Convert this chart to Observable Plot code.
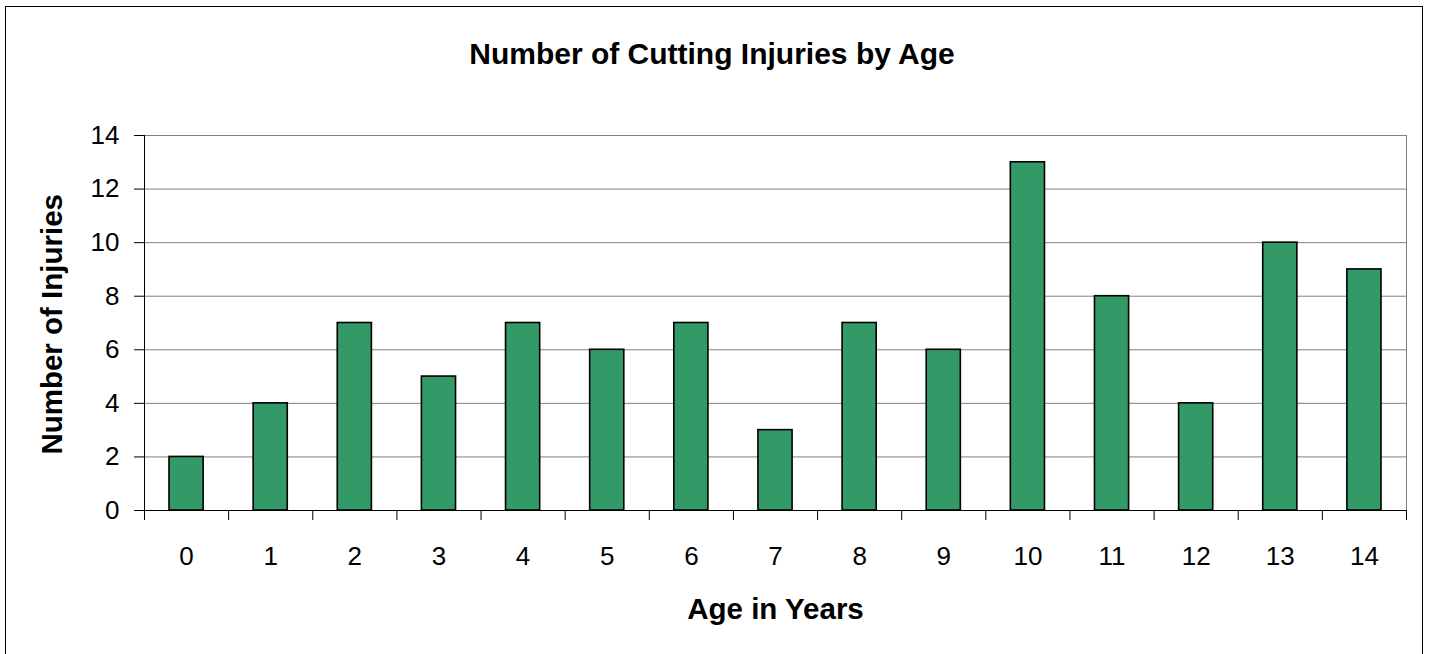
<!DOCTYPE html>
<html>
<head>
<meta charset="utf-8">
<script src="https://cdn.jsdelivr.net/npm/d3@7"></script>
<script src="https://cdn.jsdelivr.net/npm/@observablehq/plot@0.6"></script>
<style>
  html, body { margin: 0; padding: 0; background: #fff; overflow: hidden; }
  #wrap { position: relative; width: 1429px; height: 654px; }
  #border { position: absolute; left: 5px; top: 6px; width: 1418px; height: 700px;
            border: 1px solid #000; border-bottom: none; pointer-events: none; box-sizing: border-box; }
</style>
</head>
<body>
<div id="wrap"><div id="border"></div></div>
<script>
const title = "Number of Cutting Injuries by Age";
const xTitle = "Age in Years";
const yTitle = "Number of Injuries";
const ages = [0, 1, 2, 3, 4, 5, 6, 7, 8, 9, 10, 11, 12, 13, 14];
const injuries = [2, 4, 7, 5, 7, 6, 7, 3, 7, 6, 13, 8, 4, 10, 9];
const yTicks = [0, 2, 4, 6, 8, 10, 12, 14];

const data = ages.map((a, i) => ({age: a, count: injuries[i]}));
const boundaries = [...ages.map(a => a - 0.5), ages[ages.length - 1] + 0.5];
const font = "'Liberation Sans', Arial, sans-serif";

const chart = Plot.plot({
  width: 1429,
  height: 654,
  marginLeft: 144,
  marginRight: 23,
  marginTop: 135,
  marginBottom: 144,
  style: {fontFamily: font, background: "transparent", color: "#000", overflow: "visible"},
  x: {type: "linear", domain: [boundaries[0], boundaries[boundaries.length - 1]], label: null},
  y: {domain: [0, 14], label: null},
  marks: [
    Plot.gridY(yTicks, {stroke: "#808080", strokeOpacity: 1, strokeWidth: 1}),
    Plot.ruleX([boundaries[boundaries.length - 1]], {stroke: "#808080", strokeWidth: 1}),
    Plot.rectY(data, {
      x1: d => d.age - 0.5, x2: d => d.age + 0.5, y1: 0, y2: "count",
      insetLeft: 25, insetRight: 25,
      fill: "#339966", stroke: "#000", strokeWidth: 1.6
    }),
    Plot.ruleY([0], {stroke: "#000", strokeWidth: 1}),
    Plot.ruleX([boundaries[0]], {stroke: "#000", strokeWidth: 1, insetBottom: -10}),
    Plot.axisY({ticks: yTicks, tickSize: 10, tickPadding: 15, fontSize: 26, label: null, stroke: "#000"}),
    Plot.axisX({ticks: boundaries, tickSize: 10, tickFormat: () => "", label: null, stroke: "#000"}),
    Plot.axisX({ticks: ages, tickSize: 0, tickPadding: 36.5, fontSize: 26, label: null, tickFormat: d => String(d)}),
    Plot.text([title], {frameAnchor: "top", lineAnchor: "middle", textAnchor: "middle", dx: -63.5, dy: -81.3, fontSize: 30, fontWeight: "bold", fill: "#000"}),
    Plot.text([xTitle], {frameAnchor: "bottom", lineAnchor: "middle", textAnchor: "middle", dy: 98.7, fontSize: 29.5, fontWeight: "bold", fill: "#000"}),
    Plot.text([yTitle], {frameAnchor: "left", lineAnchor: "middle", textAnchor: "middle", rotate: -90, dx: -92, dy: 1.3, fontSize: 29.5, fontWeight: "bold", fill: "#000"})
  ]
});
document.getElementById("wrap").prepend(chart);
</script>
</body>
</html>
